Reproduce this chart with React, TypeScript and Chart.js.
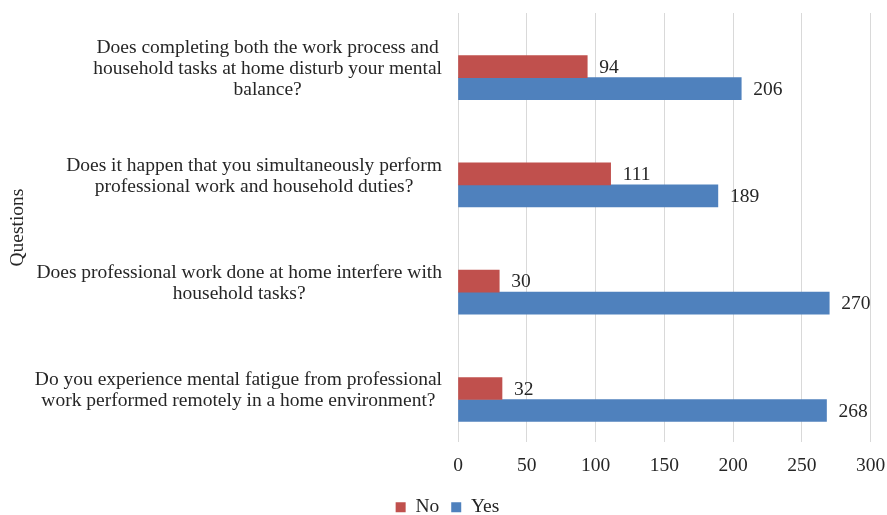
import React, { useEffect, useRef } from 'react';
import { Chart, registerables } from 'chart.js';

Chart.register(...registerables);

const categories: string[][] = [
  ['Does completing both the work process and', 'household tasks at home disturb your mental', 'balance?'],
  ['Does it happen that you simultaneously perform', 'professional work and household duties?'],
  ['Does professional work done at home interfere with', 'household tasks?'],
  ['Do you experience mental fatigue from professional', 'work performed remotely in a home environment?'],
];
const seriesNames = ['No', 'Yes'];
const noValues = [94, 111, 30, 32];
const yesValues = [206, 189, 270, 268];
const spacerValues = [null, null, null, null];
const xTicks = [0, 50, 100, 150, 200, 250, 300];
const axisTitle = 'Questions';

const FONT = "'Liberation Serif', 'Times New Roman', serif";
const TEXT = '#262626';
const RED = '#C0504D';
const BLUE = '#4F81BD';

const PAD_LEFT = 7.5;
const PAD_RIGHT = -0.5;

const categoryLabelPlugin = {
  id: 'categoryLabels',
  afterDraw(chart: any) {
    const ctx = chart.ctx;
    const yScale = chart.scales.y;
    ctx.save();
    ctx.font = `19.5px ${FONT}`;
    ctx.fillStyle = TEXT;
    ctx.textBaseline = 'middle';
    ctx.textAlign = 'center';
    const right = chart.chartArea.left - 16;
    const LH = 21;
    categories.forEach((lines, i) => {
      const cy = yScale.getPixelForValue(i);
      const w = Math.max(...lines.map((l) => ctx.measureText(l).width));
      const cx = right - w / 2;
      lines.forEach((line, k) => {
        ctx.fillText(line, cx, cy + (k - (lines.length - 1) / 2) * LH + 2);
      });
    });
    ctx.restore();
  },
};

const valueLabelPlugin = {
  id: 'valueLabels',
  afterDatasetsDraw(chart: any) {
    const ctx = chart.ctx;
    ctx.save();
    ctx.font = `19.5px ${FONT}`;
    ctx.fillStyle = TEXT;
    ctx.textBaseline = 'middle';
    ctx.textAlign = 'left';
    chart.data.datasets.forEach((ds: any, di: number) => {
      if (!ds.label) return;
      const meta = chart.getDatasetMeta(di);
      meta.data.forEach((bar: any, i: number) => {
        const v = ds.data[i];
        if (v == null) return;
        ctx.fillText(String(v), bar.x + 12, bar.y + 1);
      });
    });
    ctx.restore();
  },
};

export default function App() {
  const ref = useRef<HTMLCanvasElement | null>(null);

  useEffect(() => {
    if (!ref.current) return;
    const chart = new Chart(ref.current, {
      type: 'bar',
      data: {
        labels: categories.map((c) => c.join(' ')),
        datasets: [
          { label: '', data: spacerValues as any, backgroundColor: 'rgba(0,0,0,0)' },
          { label: seriesNames[0], data: noValues, backgroundColor: RED },
          { label: seriesNames[1], data: yesValues, backgroundColor: BLUE },
        ],
      },
      options: {
        indexAxis: 'y',
        responsive: false,
        animation: false,
        devicePixelRatio: 1,
        datasets: { bar: { barThickness: 22 } } as any,
        layout: { padding: { top: 13, right: PAD_RIGHT, left: PAD_LEFT, bottom: -12 } },
        scales: {
          x: {
            min: xTicks[0],
            max: xTicks[xTicks.length - 1],
            ticks: {
              stepSize: xTicks[1] - xTicks[0],
              padding: 12,
              color: TEXT,
              font: { family: FONT, size: 19.5 },
            },
            grid: { color: '#D9D9D9', drawTicks: false, lineWidth: 1 },
            border: { display: false },
            afterFit: (s: any) => {
              s.height -= 4;
              s.paddingRight = 16.5;
            },
          },
          y: {
            ticks: { display: false },
            grid: { display: false },
            border: { display: false },
            title: {
              display: true,
              text: axisTitle,
              color: TEXT,
              font: { family: FONT, size: 19.5 },
              padding: { top: 6 - PAD_LEFT, bottom: 0 },
            },
            afterFit: (s: any) => {
              s.width = 458 - PAD_LEFT;
            },
          },
        },
        plugins: {
          legend: {
            position: 'bottom',
            labels: {
              boxWidth: 10,
              boxHeight: 10,
              padding: 12,
              color: TEXT,
              font: { family: FONT, size: 19.5 },
              filter: (item: any) => item.text !== '',
            },
          },
          tooltip: { enabled: false },
        },
      },
      plugins: [categoryLabelPlugin, valueLabelPlugin],
    });
    return () => chart.destroy();
  }, []);

  return (
    <div style={{ position: 'fixed', left: 0, top: 0, width: 887, height: 515, background: '#fff' }}>
      <canvas ref={ref} width={887} height={515} />
    </div>
  );
}
